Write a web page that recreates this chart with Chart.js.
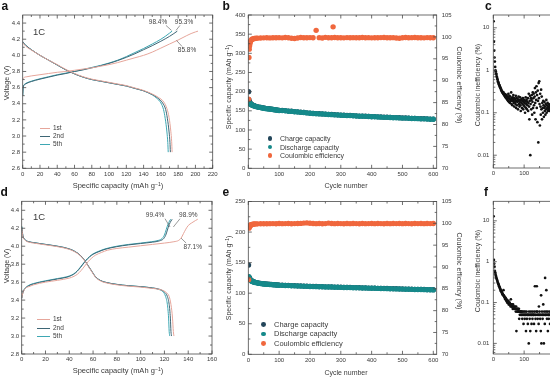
<!DOCTYPE html>
<html><head><meta charset="utf-8">
<script src="https://cdn.jsdelivr.net/npm/chart.js@4.4.1/dist/chart.umd.min.js"></script>
<style>
html,body{margin:0;padding:0;background:#fff;overflow:hidden;}
body{width:550px;height:378px;position:relative;font-family:"Liberation Sans",Arial,sans-serif;color:#3a3a3a;}
canvas{position:absolute;}
.tx{position:absolute;white-space:nowrap;line-height:1;}
.c{transform:translate(-50%,-50%);}
.rl{transform:translate(-50%,-50%) rotate(-90deg);}
.rr{transform:translate(-50%,-50%) rotate(90deg);}
.pl{position:absolute;font-weight:bold;font-size:12px;line-height:12px;color:#111;}
sup{font-size:70%;vertical-align:0.4em;line-height:0;}
.lg{position:absolute;display:flex;align-items:center;height:8px;white-space:nowrap;line-height:1;color:#3a3a3a;}
.ln{display:inline-block;height:0;margin-right:3px;}
.dt{display:inline-block;width:4.8px;height:4.8px;border-radius:50%;}
</style></head><body>
<canvas id="ca"></canvas><canvas id="cb"></canvas><canvas id="cc"></canvas>
<canvas id="cd"></canvas><canvas id="ce"></canvas><canvas id="cf"></canvas>

<div class="pl" style="left:1.5px;top:0px">a</div>
<div class="pl" style="left:222.5px;top:0px">b</div>
<div class="pl" style="left:485px;top:0px">c</div>
<div class="pl" style="left:0.5px;top:186px">d</div>
<div class="pl" style="left:222.5px;top:186px">e</div>
<div class="pl" style="left:484px;top:186px">f</div>

<div class="tx" style="left:33px;top:27px;font-size:9.5px">1C</div>
<div class="tx" style="left:33px;top:211.5px;font-size:9.5px">1C</div>

<div class="tx rl" style="left:6px;top:83px;font-size:7px">Voltage (V)</div>
<div class="tx c" style="left:118px;top:185.5px;font-size:7.5px">Specific capacity (mAh g<sup>−1</sup>)</div>
<div class="tx rl" style="left:6px;top:266px;font-size:7px">Voltage (V)</div>
<div class="tx c" style="left:118px;top:371px;font-size:7.5px">Specific capacity (mAh g<sup>−1</sup>)</div>

<div class="tx rl" style="left:227.5px;top:87px;font-size:7px">Specific capacity (mAh g<sup>−1</sup>)</div>
<div class="tx rr" style="left:458.8px;top:85px;font-size:7px">Coulombic efficiency (%)</div>
<div class="tx c" style="left:346px;top:185px;font-size:7px">Cycle number</div>
<div class="tx rl" style="left:227.5px;top:278px;font-size:7px">Specific capacity (mAh g<sup>−1</sup>)</div>
<div class="tx rr" style="left:458.8px;top:271px;font-size:7px">Coulombic efficiency (%)</div>
<div class="tx c" style="left:346px;top:371.5px;font-size:7px">Cycle number</div>

<div class="tx rl" style="left:476.7px;top:85px;font-size:7px">Coulombic inefficiency (%)</div>
<div class="tx rl" style="left:476.7px;top:271px;font-size:7px">Coulombic inefficiency (%)</div>

<div class="lg" style="left:40px;top:124.3px;font-size:6.5px"><span class="ln" style="width:10px;border-top:1.2px solid #e6a69b"></span>1st</div>
<div class="lg" style="left:40px;top:132.7px;font-size:6.5px"><span class="ln" style="width:10px;border-top:1.2px solid #3e6675"></span>2nd</div>
<div class="lg" style="left:40px;top:140.3px;font-size:6.5px"><span class="ln" style="width:10px;border-top:1.2px solid #3ea7b3"></span>5th</div>
<div class="lg" style="left:37px;top:315.7px;font-size:6.5px"><span class="ln" style="width:13px;border-top:1.2px solid #e6a69b"></span>1st</div>
<div class="lg" style="left:37px;top:324px;font-size:6.5px"><span class="ln" style="width:13px;border-top:1.2px solid #3e6675"></span>2nd</div>
<div class="lg" style="left:37px;top:332.3px;font-size:6.5px"><span class="ln" style="width:13px;border-top:1.2px solid #3ea7b3"></span>5th</div>

<div class="lg" style="left:267.6px;top:134.3px;font-size:7px"><span class="dt" style="background:#23465a;margin-right:7.6px"></span>Charge capacity</div>
<div class="lg" style="left:267.6px;top:143px;font-size:7px"><span class="dt" style="background:#15898a;margin-right:7.6px"></span>Discharge capacity</div>
<div class="lg" style="left:267.6px;top:151.7px;font-size:7px"><span class="dt" style="background:#f0673d;margin-right:7.6px"></span>Coulombic efficiency</div>
<div class="lg" style="left:260.9px;top:320.7px;font-size:7.5px"><span class="dt" style="background:#23465a;margin-right:8.3px"></span>Charge capacity</div>
<div class="lg" style="left:260.9px;top:330px;font-size:7.5px"><span class="dt" style="background:#15898a;margin-right:8.3px"></span>Discharge capacity</div>
<div class="lg" style="left:260.9px;top:339.3px;font-size:7.5px"><span class="dt" style="background:#f0673d;margin-right:8.3px"></span>Coulombic efficiency</div>

<script>
// ================= DATA =================
// Panel a: voltage profiles at 1C (capacity mAh/g, voltage V)
const aChg1Cap=[0,1,5,10,20,30,40,50,60,70,80,90,100,110,120,130,140,150,160,170,180,190,195,200,203];
const aChg1V  =[3.70,3.72,3.735,3.745,3.76,3.775,3.79,3.80,3.815,3.83,3.845,3.865,3.885,3.91,3.94,3.97,4.00,4.04,4.09,4.14,4.19,4.245,4.27,4.29,4.30];
const aChg2Cap=[0,0.5,2,5,10,20,30,40,50,60,70,80,90,100,110,120,130,140,150,160,170,175,179];
const aChg2V  =[3.50,3.60,3.635,3.655,3.675,3.705,3.73,3.755,3.775,3.80,3.82,3.845,3.87,3.90,3.935,3.975,4.02,4.07,4.12,4.175,4.235,4.27,4.30];
const aChg5Cap=[0,0.5,2,5,10,20,30,40,50,60,70,80,90,100,110,120,130,140,150,160,165,170,173];
const aChg5V  =[3.50,3.60,3.64,3.66,3.68,3.71,3.735,3.76,3.78,3.80,3.825,3.85,3.875,3.905,3.94,3.985,4.035,4.085,4.14,4.20,4.235,4.275,4.30];
const aDis1Cap=[0,2,5,10,20,30,40,50,60,70,80,90,100,110,120,130,140,150,157,163.5,167,169.5,171.5,172.5,173];
const aDis1V  =[4.16,4.13,4.10,4.065,4.00,3.94,3.885,3.825,3.775,3.735,3.705,3.685,3.665,3.645,3.625,3.595,3.565,3.52,3.48,3.42,3.34,3.23,3.06,2.93,2.80];
const aDis2Cap=[0,2,5,10,20,30,40,50,60,70,80,90,100,110,120,130,140,150,156,162,165.5,167.5,169.5,170.5,171];
const aDis2V  =[4.17,4.14,4.11,4.07,4.00,3.94,3.88,3.82,3.77,3.73,3.70,3.68,3.66,3.64,3.62,3.59,3.56,3.515,3.475,3.41,3.33,3.22,3.05,2.92,2.80];
const aDis5Cap=[0,2,5,10,20,30,40,50,60,70,80,90,100,110,120,130,140,150,155,160,163,165,167,168,168.5];
const aDis5V  =[4.17,4.14,4.11,4.07,4.00,3.94,3.88,3.82,3.77,3.73,3.70,3.68,3.66,3.64,3.62,3.59,3.56,3.51,3.47,3.41,3.33,3.22,3.05,2.92,2.80];

// Panel d
const dChg1Cap=[0,1,3,6,10,20,30,40,44,47,50,53,56,59,62,67,72,80,90,100,110,120,128,132,134,136,138,140,143,146,148];
const dChg1V  =[3.42,3.48,3.53,3.55,3.57,3.60,3.62,3.645,3.665,3.69,3.73,3.78,3.83,3.87,3.90,3.93,3.955,3.975,3.99,4.005,4.02,4.035,4.05,4.065,4.09,4.14,4.19,4.23,4.26,4.285,4.30];
const dChg2Cap=[0,1,3,6,10,20,30,38,42,45,48,51,54,57,60,65,70,80,90,100,110,116,119,121,122.5,124,125.5,126.5];
const dChg2V  =[3.42,3.48,3.53,3.56,3.58,3.61,3.635,3.655,3.675,3.70,3.74,3.79,3.84,3.88,3.91,3.94,3.965,3.995,4.015,4.03,4.045,4.06,4.08,4.12,4.18,4.24,4.28,4.30];
const dChg5Cap=[0,1,3,6,10,20,30,38,42,45,48,51,54,57,60,65,70,80,90,100,109,115,118,120,121.5,123,124.3,125.2];
const dChg5V  =[3.42,3.49,3.535,3.565,3.585,3.615,3.64,3.66,3.68,3.705,3.745,3.795,3.845,3.885,3.915,3.945,3.97,4.00,4.02,4.035,4.05,4.065,4.085,4.125,4.185,4.245,4.28,4.30];
const dDis1Cap=[0,1,3,6,10,20,30,40,45,50,53,56,59,62,66,70,80,90,100,110,117,121.5,124,125.5,126.8,127.5,128];
const dDis1V  =[4.20,4.11,4.065,4.045,4.035,4.015,3.995,3.965,3.935,3.885,3.835,3.775,3.715,3.655,3.615,3.595,3.57,3.555,3.545,3.53,3.515,3.485,3.44,3.35,3.20,3.05,3.00];
const dDis2Cap=[0,1,3,6,10,20,30,40,45,50,53,56,59,62,66,70,80,90,100,110,116,120,122.5,124,125,125.5,126];
const dDis2V  =[4.22,4.12,4.07,4.05,4.04,4.02,4.00,3.97,3.94,3.89,3.84,3.78,3.72,3.66,3.62,3.60,3.575,3.56,3.55,3.535,3.52,3.49,3.44,3.35,3.20,3.05,3.00];
const dDis5Cap=[0,1,3,6,10,20,30,40,45,50,53,56,59,62,66,70,80,90,100,110,115,119,121,122.5,123.5,124,124.5];
const dDis5V  =[4.22,4.12,4.07,4.05,4.04,4.02,4.00,3.97,3.94,3.89,3.84,3.78,3.72,3.66,3.62,3.60,3.575,3.56,3.55,3.535,3.52,3.49,3.44,3.35,3.20,3.05,3.00];

// Panel b: cycling (capacity mAh/g vs cycle)
const cycB=[1,2,3,4,5,6,8,10,12,15,18,20,25,30,35,40,45,50,55,60,65,70,75,80,85,90,95,100,
 110,120,130,140,150,160,170,180,190,200,210,220,230,240,250,260,270,280,290,300,310,320,330,340,350,360,370,380,390,400,
 410,420,430,440,450,460,470,480,490,500,510,520,530,540,550,560,570,580,590,600];
const disB=[174,171,170,169,168.5,168,167,166,165,164,163,162.5,161,160,159,158.5,157.5,157,156,155.5,155,154.5,154,153.5,152.5,152,151.5,151,
 150.5,150,149,148.5,147.5,147,146,145.5,144.5,143.5,143,142.5,142,141.5,141,140.5,140,139.5,139,138.5,138,137.5,137.5,137,136.5,136,136,135.5,135,134.5,
 134.5,134,133.5,133,133,132.5,132,132,131.5,131,131,130.5,130,130,129.5,129,129,128.5,128,128];
const chgB=[200,179.5,175,172.5,171.5,170,168.5,167,165.8,164.7,163.6,163.1,161.5,160.5,159.5,159,158,157.5,156.5,156,155.5,155,154.5,154,153,152.5,152,151.5,
 151,150.5,149.5,149,148,147.5,146.5,146,145,144,143.5,143,142.5,142,141.5,141,140.5,140,139.5,139,138.5,138,138,137.5,137,136.5,136.5,136,135.5,135,
 135,134.5,134,133.5,133.5,133,132.5,132.5,132,131.5,131.5,131,130.5,130.5,130,129.5,129.5,129,128.5,128.5];
const ceCycB=[1,2,3,4,5,6,7,8,10,12,15,18,20,25,30,
 40,50,60,70,80,90,100,110,120,130,140,150,160,170,180,190,200,210,220,230,240,250,260,270,275,
 280,290,300,310,320,330,340,350,360,370,380,390,400,410,420,430,440,450,460,470,480,490,500,510,520,530,540,550,560,570,580,590,600];
const ceB=[85.8,95.3,97.2,97.9,98.4,98.8,99.0,99.15,99.3,99.45,99.55,99.6,99.65,99.7,99.72,
 99.75,99.78,99.8,99.77,99.82,99.8,99.83,99.78,99.85,99.8,99.7,99.62,99.75,99.85,99.82,99.8,99.84,99.8,101.5,99.83,99.75,99.9,99.82,99.8,102.3,
 99.85,99.8,99.82,99.78,99.84,99.8,99.83,99.79,99.82,99.85,99.8,99.83,99.78,99.82,99.8,99.84,99.88,99.82,99.8,99.83,99.75,99.7,99.82,99.85,99.8,99.83,99.86,99.8,99.82,99.78,99.84,99.8,99.82];

// Panel e
const cycE=cycB;
const disE=[127,125.5,124.5,123.5,122.5,122,121,120,119.5,118.8,118.2,117.8,117.2,116.6,116.1,115.7,115.4,115.1,114.8,114.6,114.4,114.2,114,113.8,113.6,113.4,113.2,113,
 112.8,112.6,112.4,112.2,112,111.8,111.6,111.4,111.2,111,110.8,110.7,110.5,110.4,110.2,110.1,110,109.8,109.7,109.5,109.4,109.2,109.1,109,108.8,108.7,108.5,108.4,108.2,108.1,
 108,107.8,107.7,107.5,107.4,107.2,107.1,107,106.8,106.7,106.5,106.4,106.3,106.1,106,105.9,105.8,105.6,105.5,105.4];
const chgE=[146,126.9,125.5,124.3,123.3,122.7,121.6,120.6,120,119.2,118.6,118.2,117.5,116.9,116.4,116,115.7,115.4,115.1,114.9,114.7,114.5,114.3,114.1,113.9,113.7,113.5,113.3,
 113.1,112.9,112.7,112.5,112.3,112.1,111.9,111.7,111.5,111.3,111.1,111,110.8,110.7,110.5,110.4,110.3,110.1,110,109.8,109.7,109.5,109.4,109.3,109.1,109,108.8,108.7,108.5,108.4,
 108.3,108.1,108,107.8,107.7,107.5,107.4,107.3,107.1,107,106.8,106.7,106.6,106.4,106.3,106.2,106.1,105.9,105.8,105.7];
const ceCycE=[1,2,3,4,5,6,7,8,10,12,15,18,20,25,30,
 40,50,60,70,80,90,100,110,120,130,140,150,160,170,180,190,200,210,220,230,240,250,260,270,
 280,290,300,310,320,330,340,350,360,370,380,390,400,410,420,430,440,450,460,470,480,490,500,510,520,530,540,550,560,570,580,590,600];
const ceE=[87.1,98.9,99.1,99.25,99.4,99.5,99.55,99.6,99.68,99.72,99.78,99.82,99.84,99.87,99.88,
 99.9,99.92,99.9,99.93,99.94,99.92,99.95,99.93,99.94,99.96,99.9,99.94,99.95,99.98,100.05,100.1,100.02,99.95,99.93,99.96,99.92,99.94,100.05,99.95,
 99.93,99.95,99.94,99.92,99.95,99.93,99.96,99.94,99.92,99.95,99.93,99.94,99.96,99.93,99.95,99.94,99.92,99.95,99.93,99.96,99.94,99.95,99.93,99.95,99.94,99.92,99.96,99.94,99.95,99.93,99.96,99.94,99.95];

// Panels c, f: coulombic inefficiency (%) for consecutive cycles starting at cycle 1
const firstCycle=1;
const ineffC=[14.2,4.7,2.9,2.0,1.6,1.2,1.0,0.95,0.85,0.8,
 0.72,0.68,0.62,0.6,0.55,0.52,0.5,0.47,0.45,0.44,
 0.42,0.4,0.38,0.37,0.36,0.34,0.33,0.32,0.3,0.31,
 0.29,0.28,0.3,0.27,0.26,0.28,0.25,0.24,0.27,0.23,
 0.25,0.22,0.26,0.21,0.24,0.2,0.23,0.19,0.28,0.22,
 0.18,0.25,0.21,0.17,0.24,0.2,0.19,0.3,0.16,0.22,
 0.2,0.15,0.23,0.19,0.26,0.17,0.21,0.14,0.22,0.18,
 0.2,0.16,0.25,0.13,0.19,0.22,0.15,0.18,0.21,0.12,
 0.19,0.24,0.16,0.2,0.14,0.18,0.23,0.15,0.11,0.2,
 0.17,0.21,0.13,0.19,0.16,0.22,0.12,0.18,0.15,0.2,
 0.14,0.17,0.1,0.19,0.23,0.13,0.16,0.2,0.12,0.18,
 0.15,0.22,0.11,0.17,0.28,0.14,0.07,0.19,0.25,0.01,
 0.16,0.22,0.12,0.2,0.26,0.09,0.18,0.3,0.13,0.22,
 0.28,0.15,0.1,0.24,0.38,0.17,0.07,0.3,0.2,0.42,
 0.13,0.26,0.06,0.33,0.19,0.02,0.5,0.22,0.55,0.16,
 0.05,0.28,0.14,0.09,0.35,0.12,0.24,0.07,0.17,0.13,
 0.1,0.19,0.15,0.08,0.13,0.18,0.11,0.14,0.09,0.16,
 0.12,0.2,0.1,0.15,0.13,0.17,0.11,0.14,0.12,0.16,
 0.13,0.11,0.15,0.12,0.14];
const ineffF=[12.9,1.1,0.9,0.75,0.6,0.55,0.5,0.46,0.43,0.4,
 0.38,0.36,0.34,0.32,0.3,0.29,0.28,0.26,0.25,0.24,
 0.23,0.22,0.21,0.2,0.19,0.19,0.18,0.17,0.17,0.16,
 0.16,0.15,0.2,0.15,0.14,0.14,0.13,0.13,0.12,0.13,
 0.12,0.11,0.12,0.11,0.1,0.11,0.1,0.1,0.11,0.09,
 0.1,0.09,0.1,0.09,0.09,0.08,0.12,0.09,0.08,0.09,
 0.08,0.08,0.07,0.09,0.08,0.07,0.08,0.07,0.07,0.08,
 0.07,0.07,0.06,0.08,0.02,0.07,0.06,0.07,0.06,0.07,
 0.06,0.06,0.07,0.04,0.06,0.05,0.06,0.06,0.05,0.06,
 0.05,0.06,0.05,0.04,0.06,0.05,0.05,0.03,0.06,0.05,
 0.05,0.04,0.06,0.05,0.05,0.02,0.05,0.06,0.04,0.05,
 0.05,0.03,0.05,0.05,0.01,0.06,0.05,0.04,0.05,0.02,
 0.05,0.06,0.05,0.03,0.05,0.05,0.04,0.06,0.05,0.05,
 0.05,0.03,0.05,0.06,0.25,0.05,0.04,0.05,0.02,0.06,
 0.25,0.05,0.06,0.04,0.05,0.05,0.03,0.08,0.05,0.06,
 0.05,0.04,0.05,0.02,0.15,0.01,0.05,0.06,0.05,0.04,
 0.05,0.09,0.05,0.01,0.06,0.05,0.03,0.4,0.05,0.05,
 0.06,0.2,0.05,0.04,0.05,0.06,0.02,0.05,0.05,0.04,
 0.05,0.06,0.05,0.03,0.05];

// Tick labels
const aXTicks=[0,20,40,60,80,100,120,140,160,180,200,220];
const aYTicks=[2.6,2.8,3.0,3.2,3.4,3.6,3.8,4.0,4.2,4.4];
const dXTicks=[0,20,40,60,80,100,120,140,160];
const dYTicks=[2.8,3.0,3.2,3.4,3.6,3.8,4.0,4.2,4.4];
const cycTicks=[0,100,200,300,400,500,600];
const bYTicks=[0,50,100,150,200,250,300,350,400];
const eYTicks=[0,50,100,150,200,250];
const ceTicks=[70,75,80,85,90,95,100,105];
const logTicks=[0.01,0.1,1,10];

// ================= RENDER =================
const FONT="'Liberation Sans', Arial, sans-serif";
Chart.defaults.font.family=FONT;
const COL={c1:'#e6a69b',c2:'#3e6675',c5:'#3ea7b3',chg:'#23465a',dis:'#15898a',ce:'#f0673d'};
const pts=(xs,ys)=>xs.map((x,i)=>({x,y:ys[i]}));
const seqPts=(ys)=>ys.map((y,i)=>({x:firstCycle+i,y}));

// annotations in data units
const notes={
  ca:[{t:'98.4%',x:156.7,y:4.415,l:[165.9,4.371,172.3,4.309]},
      {t:'95.3%',x:186.8,y:4.415,l:[182.1,4.371,177.5,4.309]},
      {t:'85.8%',x:190.3,y:4.06,l:[184.5,4.11,178.1,4.185]}],
  cd:[{t:'99.4%',x:112.1,y:4.342,l:[120.5,4.306,124.7,4.214]},
      {t:'98.9%',x:140.1,y:4.342,l:[133.1,4.306,127.5,4.214]},
      {t:'87.1%',x:143.8,y:3.985,l:[138.2,4.036,134,4.09]}]
};

const framePlugin={
  id:'frame',
  afterDatasetsDraw(chart){
    const ctx=chart.ctx,a=chart.chartArea,S=chart.scales;
    ctx.save();
    ctx.strokeStyle='#4a4a4a';ctx.lineWidth=0.8;
    ctx.strokeRect(a.left,a.top,a.right-a.left,a.bottom-a.top);
    const marks=sc=>{
      const major=sc.ticks.map(t=>t.value),minor=[];
      if(sc.type==='logarithmic'){
        for(let e=Math.floor(Math.log10(sc.min));e<=Math.ceil(Math.log10(sc.max));e++)
          for(let k=2;k<=9;k++){const v=k*Math.pow(10,e);if(v>sc.min&&v<sc.max)minor.push(v);}
      }else{
        const st=major[1]-major[0];
        for(let v=major[0]-st/2;v<sc.max-1e-9;v+=st)if(v>sc.min+1e-9)minor.push(v);
      }
      return [[major,3.5],[minor,2]];
    };
    ctx.beginPath();
    const seg=(x1,y1,x2,y2)=>{ctx.moveTo(x1,y1);ctx.lineTo(x2,y2);};
    marks(S.x).forEach(([vals,len])=>vals.forEach(v=>{const p=S.x.getPixelForValue(v);seg(p,a.bottom,p,a.bottom-len);seg(p,a.top,p,a.top+len);}));
    marks(S.y).forEach(([vals,len])=>vals.forEach(v=>{const p=S.y.getPixelForValue(v);seg(a.left,p,a.left+len,p);if(!S.y1)seg(a.right,p,a.right-len,p);}));
    if(S.y1)marks(S.y1).forEach(([vals,len])=>vals.forEach(v=>{const p=S.y1.getPixelForValue(v);seg(a.right,p,a.right-len,p);}));
    ctx.stroke();
    const ns=notes[chart.canvas.id];
    if(ns){
      ctx.fillStyle='#444';ctx.font='6.5px '+FONT;ctx.textAlign='center';ctx.textBaseline='middle';
      ctx.strokeStyle='#555';ctx.lineWidth=0.6;
      ns.forEach(n=>{
        ctx.fillText(n.t,S.x.getPixelForValue(n.x),S.y.getPixelForValue(n.y));
        ctx.beginPath();
        ctx.moveTo(S.x.getPixelForValue(n.l[0]),S.y.getPixelForValue(n.l[1]));
        ctx.lineTo(S.x.getPixelForValue(n.l[2]),S.y.getPixelForValue(n.l[3]));
        ctx.stroke();
      });
    }
    ctx.restore();
  }
};
Chart.register(framePlugin);

function axis(type,min,max,ticksArr,fmt,pad,extra){
  return Object.assign({
    type,min,max,
    afterBuildTicks:s=>{s.ticks=ticksArr.map(v=>({value:v}));},
    ticks:{autoSkip:false,maxRotation:0,minRotation:0,font:{size:6,family:FONT},color:'#3a3a3a',padding:pad,callback:fmt},
    grid:{display:false,drawTicks:false},
    border:{display:false}
  },extra||{});
}
const f1=v=>v.toFixed(1), fs=v=>String(v);

function panel(id,box,plot,datasets,scales){
  const cv=document.getElementById(id);
  cv.style.left=box.x+'px';cv.style.top=box.y+'px';
  cv.width=box.w;cv.height=box.h;cv.style.width=box.w+'px';cv.style.height=box.h+'px';
  const R=box.x+box.w,B=box.y+box.h;
  scales.x.afterFit=s=>{s.height=B-plot.b;s.paddingLeft=0;s.paddingRight=0;};
  scales.y.afterFit=s=>{s.width=plot.l-box.x;s.paddingTop=0;s.paddingBottom=0;};
  let padR=R-plot.r;
  if(scales.y1){scales.y1.afterFit=s=>{s.width=R-plot.r;s.paddingTop=0;s.paddingBottom=0;};padR=0;}
  return new Chart(cv,{
    type:'scatter',
    data:{datasets},
    options:{
      responsive:false,animation:false,events:[],devicePixelRatio:1,
      layout:{padding:{top:plot.t-box.y,right:padR,left:0,bottom:0}},
      plugins:{legend:{display:false},tooltip:{enabled:false}},
      scales
    }
  });
}
const line=(xs,ys,c)=>({data:pts(xs,ys),showLine:true,borderColor:c,borderWidth:1,pointRadius:0,fill:false,cubicInterpolationMode:'monotone'});
const dots=(data,c,r,axisId,order)=>({data,showLine:false,pointRadius:r,pointBackgroundColor:c,pointBorderWidth:0,yAxisID:axisId||'y',order:order||0});

// a
panel('ca',{x:0,y:0,w:228,h:188},{l:22.7,t:15,r:212.7,b:168.3},[
  line(aChg1Cap,aChg1V,COL.c1),line(aDis1Cap,aDis1V,COL.c1),
  line(aChg2Cap,aChg2V,COL.c2),line(aDis2Cap,aDis2V,COL.c2),
  line(aChg5Cap,aChg5V,COL.c5),line(aDis5Cap,aDis5V,COL.c5)
],{x:axis('linear',0,220,aXTicks,fs,2),y:axis('linear',2.6,4.5,aYTicks,f1,2.5)});

// d
panel('cd',{x:0,y:189,w:228,h:189},{l:21.7,t:201.3,r:212,b:354},[
  line(dChg1Cap,dChg1V,COL.c1),line(dDis1Cap,dDis1V,COL.c1),
  line(dChg2Cap,dChg2V,COL.c2),line(dDis2Cap,dDis2V,COL.c2),
  line(dChg5Cap,dChg5V,COL.c5),line(dDis5Cap,dDis5V,COL.c5)
],{x:axis('linear',0,160,dXTicks,fs,2),y:axis('linear',2.8,4.5,dYTicks,f1,2.5)});

// b
panel('cb',{x:228,y:0,w:244,h:188},{l:248.3,t:15,r:436.7,b:168.3},[
  dots(pts(ceCycB,ceB),COL.ce,2.7,'y1',0),
  dots(pts(cycB,disB),COL.dis,2.7,'y',1),
  dots(pts(cycB,chgB),COL.chg,2.6,'y',2)
],{x:axis('linear',0,611,cycTicks,fs,2),y:axis('linear',0,400,bYTicks,fs,3),
   y1:axis('linear',70,105,ceTicks,fs,5,{position:'right'})});

// e
panel('ce',{x:228,y:189,w:244,h:189},{l:248.3,t:201.5,r:436.7,b:354.3},[
  dots(pts(ceCycE,ceE),COL.ce,2.7,'y1',0),
  dots(pts(cycE,disE),COL.dis,2.7,'y',1),
  dots(pts(cycE,chgE),COL.chg,2.6,'y',2)
],{x:axis('linear',0,611,cycTicks,fs,2),y:axis('linear',0,250,eYTicks,fs,3),
   y1:axis('linear',70,105,ceTicks,fs,5,{position:'right'})});

// c
panel('cc',{x:472,y:0,w:220,h:188},{l:493.3,t:15,r:681.7,b:168},[
  dots(seqPts(ineffC),'#111',1.35)
],{x:axis('linear',0,611,cycTicks,fs,2),y:axis('logarithmic',0.005,20,logTicks,fs,4)});

// f
panel('cf',{x:472,y:189,w:220,h:189},{l:493.3,t:201.3,r:681.7,b:354},[
  dots(seqPts(ineffF),'#111',1.35)
],{x:axis('linear',0,611,cycTicks,fs,2),y:axis('logarithmic',0.0055,30,logTicks,fs,4)});
</script>
</body></html>
